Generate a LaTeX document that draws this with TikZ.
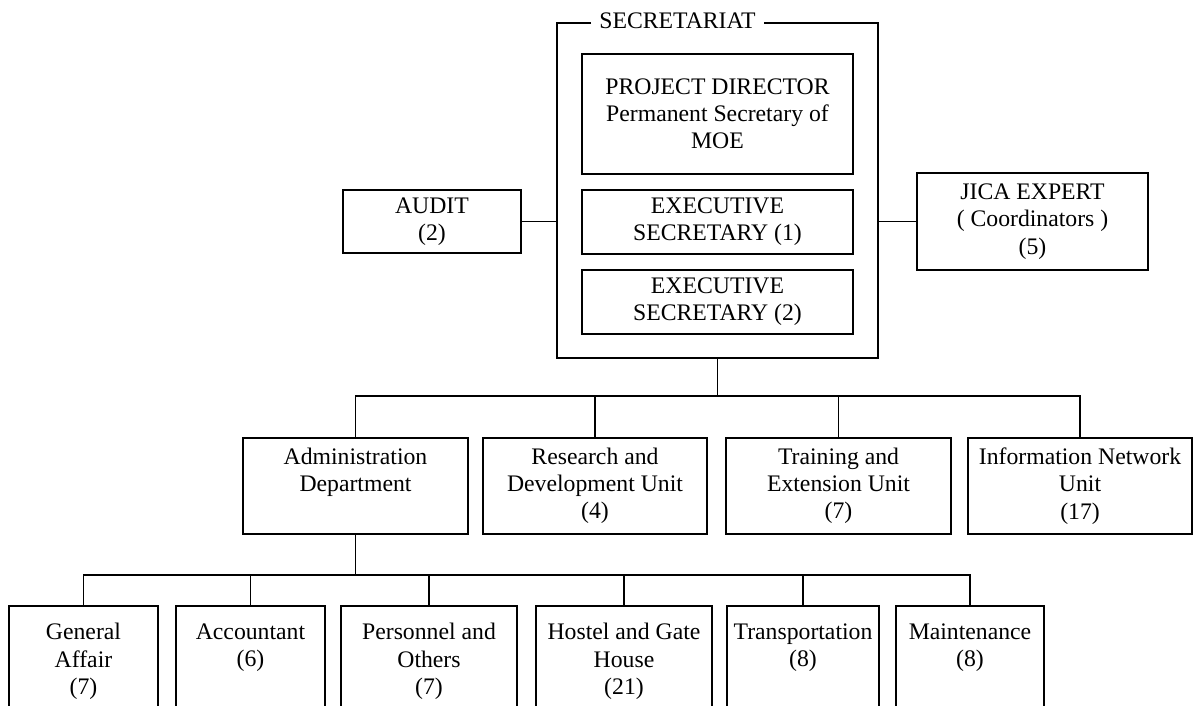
\documentclass[tikz,border=0pt]{standalone}
\usepackage{fontspec}
\setmainfont{Liberation Serif}
\tikzset{
  box/.style={draw, line width=1.1pt, align=center, inner sep=0pt,
    font=\fontsize{13.5}{15.5}\selectfont},
  link/.style={line width=1.1pt}
}
\newcommand{\emptyline}{\vphantom{(0)}}
\begin{document}
\begin{tikzpicture}[x=0.02cm, y=-0.02cm]
      \useasboundingbox (0,0) rectangle (1193,706);
      % secretariat frame and the boxes inside it
      \node[minimum width=6.42cm, minimum height=6.7cm, inner sep=0pt] (sec) at (717.5,190.5) {};
      \node[inner xsep=4.5pt, inner ysep=0pt, font=\fontsize{13.5}{15.5}\selectfont] (title) at (677.5,21) {SECRETARIAT};
      \draw[link] (sec.north -| title.west) -- (sec.north west) -- (sec.south west) -- (sec.south east) -- (sec.north east) -- (sec.north -| title.east);
      \node[box, minimum width=5.42cm, minimum height=2.4cm] (director) at (717.5,114) {PROJECT DIRECTOR\\Permanent Secretary of\\MOE};
      \node[box, minimum width=5.42cm, minimum height=1.28cm] (exec1) at (717.5,222) {EXECUTIVE\\SECRETARY (1)};
      \node[box, minimum width=5.42cm, minimum height=1.28cm] (exec2) at (717.5,302) {EXECUTIVE\\SECRETARY (2)};
      % side boxes
      \node[box, minimum width=3.56cm, minimum height=1.26cm] (audit) at (432,221.5) {AUDIT\\(2)};
      \node[box, minimum width=4.62cm, minimum height=1.94cm] (jica) at (1032.5,221.5) {JICA EXPERT\\( Coordinators )\\(5)};
      \draw[link] (audit.east) -- (audit.east -| sec.west);
      \draw[link] (jica.west) -- (jica.west -| sec.east);
      % units
      \node[box, minimum width=4.5cm, minimum height=1.92cm] (admin) at (355.5,486) {Administration\\Department\\\emptyline};
      \node[box, minimum width=4.48cm, minimum height=1.92cm] (rnd) at (595,486) {Research and\\Development Unit\\(4)};
      \node[box, minimum width=4.5cm, minimum height=1.92cm] (train) at (838.5,486) {Training and\\Extension Unit\\(7)};
      \node[box, minimum width=4.48cm, minimum height=1.92cm] (info) at (1080,486) {Information Network\\Unit\\(17)};
      \coordinate (bus1) at ([yshift=-0.76cm]sec.south);
      \draw[link] (sec.south) -- (bus1);
      \draw[link] (admin.north) |- (bus1) -| (info.north);
      \draw[link] (rnd.north) -- (rnd.north |- bus1);
      \draw[link] (train.north) -- (train.north |- bus1);
      % sections of the administration department
      \node[box, minimum width=2.98cm, minimum height=2.22cm] (general) at (83.5,661.5) {General\\Affair\\(7)};
      \node[box, minimum width=2.98cm, minimum height=2.22cm] (account) at (250.5,661.5) {Accountant\\(6)\\\emptyline};
      \node[box, minimum width=3.52cm, minimum height=2.22cm] (personnel) at (429,661.5) {Personnel and\\Others\\(7)};
      \node[box, minimum width=3.52cm, minimum height=2.22cm] (hostel) at (624,661.5) {Hostel and Gate\\House\\(21)};
      \node[box, minimum width=3.04cm, minimum height=2.22cm] (transport) at (803,661.5) {Transportation\\(8)\\\emptyline};
      \node[box, minimum width=2.96cm, minimum height=2.22cm] (maint) at (970,661.5) {Maintenance\\(8)\\\emptyline};
      \coordinate (bus2) at ([yshift=-0.8cm]admin.south);
      \draw[link] (admin.south) -- (bus2);
      \draw[link] (general.north) |- (bus2) -| (maint.north);
      \foreach \n in {account,personnel,hostel,transport}
        \draw[link] (\n.north) -- (\n.north |- bus2);
\end{tikzpicture}
\end{document}
